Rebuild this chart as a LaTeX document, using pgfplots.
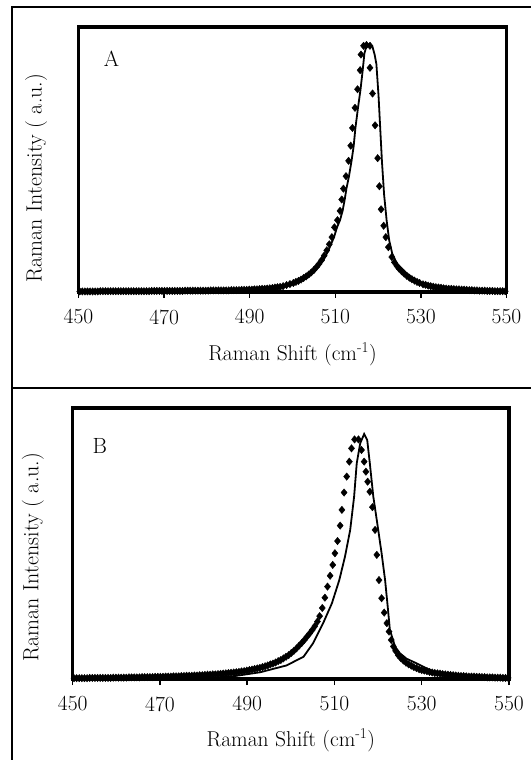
\documentclass[border=0pt]{standalone}
\usepackage{fontspec}
\usepackage{pgfplots}
\pgfplotsset{compat=1.18}

\pgfplotstableread{
x y
450.3 0.002
450.9 0.002
451.5 0.002
452.1 0.002
452.7 0.002
453.3 0.002
453.9 0.002
454.5 0.002
455.1 0.003
455.7 0.003
456.3 0.003
456.9 0.003
457.5 0.003
458.1 0.003
458.7 0.003
459.3 0.003
459.9 0.003
460.5 0.003
461.1 0.003
461.7 0.003
462.3 0.003
462.9 0.003
463.5 0.003
464.1 0.003
464.7 0.003
465.3 0.003
465.9 0.003
466.5 0.003
467.1 0.004
467.7 0.004
468.3 0.004
468.9 0.004
469.5 0.004
470.1 0.004
470.7 0.004
471.3 0.004
471.9 0.004
472.5 0.004
473.1 0.004
473.7 0.004
474.3 0.004
474.9 0.005
475.5 0.005
476.1 0.005
476.7 0.005
477.3 0.005
477.9 0.005
478.5 0.005
479.1 0.005
479.7 0.005
480.3 0.005
480.9 0.006
481.5 0.006
482.1 0.006
482.7 0.006
483.3 0.006
483.9 0.006
484.5 0.006
485.1 0.006
485.7 0.007
486.3 0.007
486.9 0.007
487.5 0.007
488.1 0.008
488.7 0.008
489.3 0.008
489.9 0.009
490.5 0.009
491.1 0.010
491.7 0.010
492.3 0.011
492.9 0.012
493.5 0.012
494.1 0.013
494.7 0.014
495.3 0.015
495.9 0.017
496.5 0.018
497.1 0.019
497.8 0.022
498.6 0.026
499.4 0.030
500.2 0.034
500.8 0.038
501.4 0.042
502.0 0.047
502.6 0.053
503.2 0.059
503.8 0.066
504.4 0.074
505.0 0.083
505.6 0.094
506.2 0.106
506.8 0.120
507.4 0.137
508.0 0.157
508.6 0.180
509.2 0.207
509.8 0.244
510.5 0.271
511.1 0.306
511.5 0.349
511.9 0.390
512.5 0.437
513.1 0.495
513.6 0.552
514.0 0.619
514.6 0.695
515.2 0.765
515.8 0.837
516.0 0.896
516.6 0.929
517.3 0.932
518.1 0.929
518.1 0.846
518.7 0.749
519.3 0.629
519.9 0.505
520.3 0.399
520.7 0.312
521.3 0.250
521.8 0.207
522.4 0.169
523.2 0.132
523.8 0.112
524.4 0.098
524.9 0.088
525.5 0.078
526.1 0.069
526.7 0.061
527.3 0.054
527.9 0.048
528.5 0.043
529.1 0.038
529.7 0.034
530.5 0.029
531.1 0.027
531.7 0.024
532.3 0.022
532.9 0.020
533.5 0.018
534.1 0.017
534.7 0.016
535.3 0.014
535.9 0.013
536.5 0.012
537.1 0.012
537.7 0.011
538.3 0.010
538.9 0.010
539.5 0.009
540.1 0.009
540.7 0.008
541.3 0.007
541.9 0.007
542.5 0.006
543.1 0.006
543.7 0.005
544.3 0.005
544.9 0.005
545.5 0.004
546.1 0.004
546.7 0.004
547.3 0.003
547.9 0.003
548.5 0.003
549.1 0.003
549.7 0.003
}\dotsA

\pgfplotstableread{
x y
450 0.002
465 0.003
480 0.005
490 0.009
495 0.013
499.6 0.025
503.2 0.051
505.2 0.078
507.2 0.120
508.4 0.157
509.7 0.207
510.4 0.244
511.1 0.271
511.7 0.306
512.2 0.349
512.6 0.390
513.2 0.437
513.8 0.495
514.3 0.552
514.7 0.619
515.3 0.695
515.9 0.765
516.4 0.837
516.8 0.900
517.3 0.930
518.0 0.935
518.7 0.925
519.2 0.895
519.6 0.860
520.1 0.741
520.5 0.616
520.9 0.492
521.4 0.368
522.0 0.269
522.6 0.194
523.3 0.145
524.4 0.107
526.7 0.070
528.9 0.045
531.0 0.028
534.4 0.014
538.0 0.008
542.3 0.004
550.0 0.002
}\lineA

\pgfplotstableread{
x y
450.3 0.003
450.9 0.003
451.5 0.003
452.1 0.003
452.7 0.003
453.3 0.003
453.9 0.004
454.5 0.004
455.1 0.004
455.7 0.004
456.3 0.004
456.9 0.004
457.5 0.004
458.1 0.004
458.7 0.004
459.3 0.005
459.9 0.005
460.5 0.005
461.1 0.005
461.7 0.005
462.3 0.005
462.9 0.006
463.5 0.006
464.1 0.006
464.7 0.006
465.3 0.006
465.9 0.007
466.5 0.007
467.1 0.007
467.7 0.007
468.3 0.007
468.9 0.008
469.5 0.008
470.1 0.008
470.7 0.008
471.3 0.009
471.9 0.009
472.5 0.009
473.1 0.010
473.7 0.010
474.3 0.010
474.9 0.011
475.5 0.011
476.1 0.012
476.7 0.012
477.3 0.012
477.9 0.013
478.5 0.013
479.1 0.014
479.7 0.014
480.3 0.015
480.9 0.016
481.5 0.016
482.1 0.017
482.7 0.017
483.3 0.018
483.9 0.019
484.5 0.020
485.1 0.021
485.7 0.022
486.3 0.023
486.9 0.024
487.5 0.025
488.1 0.026
488.7 0.028
489.3 0.029
489.9 0.031
490.5 0.033
491.1 0.035
491.7 0.037
492.3 0.039
492.9 0.041
493.5 0.044
494.1 0.047
494.7 0.050
495.3 0.054
495.9 0.057
496.5 0.061
497.1 0.066
497.7 0.070
498.3 0.076
498.9 0.082
499.5 0.088
500.1 0.096
500.7 0.104
501.3 0.113
501.9 0.123
502.5 0.133
503.1 0.144
503.7 0.156
504.3 0.168
504.9 0.181
505.5 0.195
506.1 0.212
506.6 0.232
507.2 0.262
507.8 0.300
508.4 0.341
509.0 0.381
509.6 0.421
510.1 0.464
510.7 0.509
511.3 0.566
511.7 0.624
512.2 0.688
512.8 0.747
513.4 0.802
513.9 0.851
514.6 0.884
515.5 0.884
516.2 0.845
516.8 0.802
517.2 0.765
517.6 0.728
518.1 0.691
518.7 0.634
519.3 0.550
519.7 0.458
520.2 0.365
520.8 0.298
521.4 0.245
522.0 0.206
522.5 0.175
523.0 0.144
523.5 0.120
524.0 0.104
524.6 0.088
525.2 0.077
525.8 0.068
526.4 0.060
527.0 0.054
527.6 0.049
528.2 0.044
528.8 0.040
529.4 0.036
530.0 0.033
530.6 0.031
531.2 0.029
531.8 0.026
532.4 0.024
533.0 0.022
533.6 0.021
534.2 0.020
534.8 0.018
535.4 0.017
536.0 0.016
536.6 0.015
537.2 0.014
537.8 0.013
538.4 0.012
539.0 0.011
539.6 0.011
540.2 0.010
540.8 0.009
541.4 0.009
542.0 0.009
542.6 0.008
543.2 0.008
543.8 0.007
544.4 0.007
545.0 0.006
545.6 0.006
546.2 0.006
546.8 0.005
547.4 0.005
548.0 0.005
548.6 0.004
549.2 0.004
549.8 0.004
}\dotsB

\pgfplotstableread{
x y
450 0.000
477.6 0.000
486.8 0.010
493.0 0.025
499.0 0.050
502.9 0.082
505.1 0.132
507.4 0.206
509.4 0.279
511.1 0.365
512.4 0.451
513.6 0.550
514.5 0.673
515.1 0.796
515.9 0.870
516.8 0.904
517.5 0.882
518.1 0.796
518.9 0.673
519.8 0.575
520.8 0.464
521.6 0.365
522.2 0.267
522.7 0.181
523.9 0.119
525.0 0.095
526.5 0.075
528.8 0.058
532.6 0.027
538.8 0.003
542.0 0.000
550.0 0.000
}\lineB

\pgfplotsset{
  ramanpanel/.style={
    anchor=south west, scale only axis,
    xmin=450, xmax=550, ymin=0, ymax=1,
    xtick={450,470,...,550}, ytick=\empty,
    xtick pos=left,
    tick align=outside, major tick length=6pt,
    xtick style={line width=1.5pt, black},
    axis line style={line width=3.5pt},
    /pgf/number format/assume math mode=true,
    xticklabel style={font=\fontsize{21.5}{25}\selectfont, yshift=-8pt},
    label style={font=\fontsize{21.5}{25}\selectfont},
    xlabel={Raman Shift (cm\textsuperscript{-1})},
    ylabel={Raman Intensity ( a.u.)},
  },
  dots/.style={only marks, mark=diamond*, mark size=3.7pt, black,
    mark options={xscale=1.1}},
  fit/.style={no marks, black, line width=1.8pt},
}

\begin{document}
\begin{tikzpicture}
\useasboundingbox (0pt,0pt) rectangle (531pt,760pt);
\draw[line width=2pt] (12.3pt,0pt) -- (12.3pt,752.5pt) -- (531pt,752.5pt);
\draw[line width=2pt] (12.3pt,372pt) -- (531pt,372pt);

\begin{axis}[ramanpanel, at={(78.5pt,468pt)}, width=428pt, height=265pt,
  xlabel style={at={(axis description cs:0.5,-0.234)}, anchor=center},
  ylabel style={at={(axis description cs:-0.099,0.43)}, anchor=center,
    font=\fontsize{22}{26}\selectfont}]
  \addplot[fit] table[x=x, y=y] {\lineA};
  \addplot[dots] table[x=x, y=y] {\dotsA};
  \node[font=\fontsize{22}{26}\selectfont] at (rel axis cs:0.077,0.879) {A};
\end{axis}

\begin{axis}[ramanpanel, at={(72.7pt,81pt)}, width=436.3pt, height=271pt,
  xlabel style={at={(axis description cs:0.5,-0.225)}, anchor=center},
  ylabel style={at={(axis description cs:-0.091,0.45)}, anchor=center,
    font=\fontsize{22}{26}\selectfont}]
  \addplot[fit] table[x=x, y=y] {\lineB};
  \addplot[dots] table[x=x, y=y] {\dotsB};
  \node[font=\fontsize{22}{26}\selectfont] at (rel axis cs:0.062,0.86) {B};
\end{axis}
\end{tikzpicture}
\end{document}
